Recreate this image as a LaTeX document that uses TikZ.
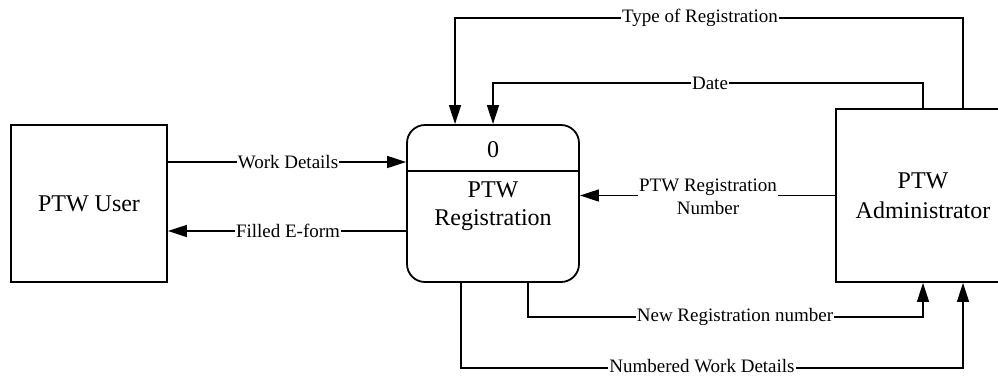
\documentclass[tikz,border=0pt]{standalone}
\usepackage{fontspec}
\setmainfont{Liberation Serif}
\usetikzlibrary{arrows.meta}
\begin{document}
\begin{tikzpicture}[x=1pt, y=-1pt,
  box/.style={draw, line width=1.8pt, inner sep=0pt, align=center,
    font=\rmfamily\fontsize{24}{30}\selectfont},
  boxtext/.style={inner sep=0pt, align=center, font=\rmfamily\fontsize{24}{28}\selectfont},
  flow/.style={line width=1.4pt, line join=miter,
    -{Triangle[length=19pt,width=12pt]}},
  lbl/.style={fill=white, inner xsep=1pt, inner ysep=0pt, align=center,
    font=\rmfamily\fontsize{19}{23}\selectfont}]

  \useasboundingbox (0,0) rectangle (998,378);
  \clip (0,0) rectangle (998,378);

  % external entities and the process
  \node[box, minimum width=156pt, minimum height=157pt] (user) at (89,203.5) {PTW User};
  \node[box, minimum width=172pt, minimum height=157pt, rounded corners=18pt] (proc) at (493,203.5) {};
  \node[box, minimum width=174pt, minimum height=173pt] (admin) at (923,195.5)
    {PTW\\Administrator};

  % process header: id and name
  \coordinate (divY) at (0,171);
  \draw[line width=1.4pt] (proc.west |- divY) -- (proc.east |- divY);
  \node[boxtext] (procid) at (493,150) {0};
  \node[boxtext] (procname) at (493,206) {PTW\\Registration};

  % routing levels of the bent flows
  \coordinate (typeY) at (0,18);
  \coordinate (dateY) at (0,83);
  \coordinate (newY) at (0,317);
  \coordinate (numY) at (0,368);

  % user <-> process
  \draw[flow] ([yshift=41.5pt]user.east) -- ([yshift=41.5pt]proc.west);
  \draw[flow] ([yshift=-27.5pt]proc.west) -- ([yshift=-27.5pt]user.east);

  % administrator -> process
  \draw[flow] ([xshift=40pt]admin.north) -- ([xshift=40pt]admin.north |- typeY)
    -- ([xshift=-38pt]proc.north |- typeY) -- ([xshift=-38pt]proc.north);
  \draw[flow] (admin.north) -- (admin.north |- dateY)
    -- (proc.north |- dateY) -- (proc.north);
  \draw[flow] (admin.west) -- (admin.west -| proc.east);

  % process -> administrator
  \draw[flow] ([xshift=35pt]proc.south) -- ([xshift=35pt]proc.south |- newY)
    -- (admin.south |- newY) -- (admin.south);
  \draw[flow] ([xshift=-32pt]proc.south) -- ([xshift=-32pt]proc.south |- numY)
    -- ([xshift=40pt]admin.south |- numY) -- ([xshift=40pt]admin.south);

  % flow labels
  \node[lbl] (lwork) at (288,162) {Work Details};
  \node[lbl] (lform) at (288,231) {Filled E-form};
  \node[lbl] (ltype) at (700,18) {Type of Registration};
  \node[lbl] (ldate) at (710,83) {Date};
  \node[lbl] (lregno) at (708,197) {PTW Registration\\Number};
  \node[lbl] (lnew) at (735,317) {New Registration number};
  \node[lbl] (lnum) at (702,366.5) {Numbered Work Details};
\end{tikzpicture}
\end{document}
